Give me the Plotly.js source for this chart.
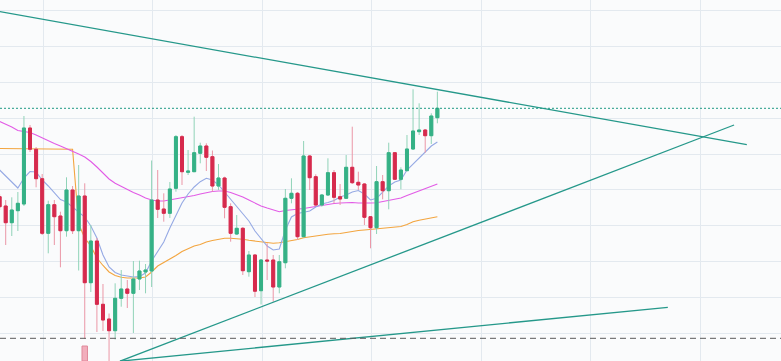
<!DOCTYPE html>
<html><head><meta charset="utf-8">
<script src="https://cdn.plot.ly/plotly-3.0.1.min.js"></script>
<style>html,body{margin:0;padding:0;background:#fafbfc;}#chart{width:781px;height:361px;}</style>
</head><body><div id="chart"></div>
<script>
// candle index (bar number), -1 is the partially visible first bar
const candleIndex = [-1,0,1,2,3,4,5,6,7,8,9,10,11,12,13,14,15,16,17,18,19,20,21,22,23,24,25,26,27,28,29,30,31,32,33,34,35,36,37,38,39,40,41,42,43,44,45,46,47,48,49,50,51,52,53,54,55,56,57,58,59,60,61,62,63,64,65,66,67,68,69,70,71];

const openPrices = [203.3,194,177.3,189.3,196,272,250.7,221.3,166.7,195.3,184,169.3,210,169.3,204,117.3,159,95.7,81,69.3,101.7,111,106.7,121,128,129,200,191,186.7,211.7,263.3,227.7,228.3,246.7,254,243.3,214,222,193.3,166,171.7,128.3,145,109.3,140,140,113,137.3,201.7,206.7,163.3,244,223.3,195,205,227.3,203.3,201.7,232.7,217.7,216,183.3,172.3,218.3,209.3,247.3,220.7,229.3,251,268.3,270,264.3,282.3];
const highPrices = [206,200,202.7,208,284,275,253,226,199.3,200,188.3,222.7,214,235,216.7,175,162,116,86.5,116.7,130,120,139,139.3,136,239.5,230,206.7,218,265,265,250,283.3,257.3,256.7,249.5,236,223.3,196.7,185,173,149,146,141,156.7,145,145,211,221.7,208,259,245,225.7,206,241.7,230,216,245,273.3,228.3,217,184,234,225,257.3,248,232.7,265,310.7,296.7,271,286.7,308.3];
const lowPrices = [190,155,164,169,194,248,212.7,165,146.7,155,132.7,163.3,166,129.5,61,108,68,69,28,60.5,93.3,92,67,110,106.7,113,182,178.3,182,208.3,215,225,228,236.7,229,208.3,210,181.7,158.3,165,125,123.3,103,95.5,120,98.3,106.7,131.7,196.7,160,163,210,194,193.3,204,196.7,195,201,216,210,175,151.7,166,200.7,190.7,220,210.7,229,250,265,247.3,256,276.7];
const closePrices = [193.3,177.3,190,196.7,272,250.7,221.3,166.7,195.3,183.3,169.3,210,169.3,204,117.3,159,95.7,80,69.3,101.7,111,106.7,121,129,130,200,190.7,186.7,211,263.3,228.3,229,247.3,254,242.7,214,222,192.7,166.7,171.7,129.3,145,108.8,140,139,113,138.3,201.7,206.7,163.3,244,222.3,195,205,227.3,202.7,201,232.7,217.3,215,182.7,172.3,218.3,209.3,247.3,220.7,230,251,269,270,264.3,284,291.7];

// moving averages
const maFast = [230,224,217,212,222,228.5,228,220,214,207,200.5,198,193,188,183,174,162,145,133,127.5,125,124,123,123.5,127,139,149,158,172,185,197,206,213,218.3,221.7,220,215,208,201,193,186,179,169,161,154,150,151,170,183,186.5,188,189,193,196,197.5,199.5,203,205,208,209.5,206,200,201.7,208,214,218,220,230,236,242,249,254,258];
const maMid = [278.5,276,273,269.5,268.5,267.5,265,262,259,256.5,254,251.5,249,246,243,238.5,233,227,221,216.7,213.5,210.5,207.5,205,202,200,199,199,200,201,202.5,203.5,204.5,206,207.5,208.5,209,209,207.5,205.5,203,200,196.7,194,192,190,188.3,189.5,190,190.7,191.5,192.5,193.5,194.5,196,196.5,197,197.5,197.5,197,196.7,197,197.3,198.3,199.3,200.5,202,204.5,206.7,209,211.3,213.5,216];
const maSlow = [251.5,251.4,251.3,251.3,251.2,251.2,251.1,251.1,251,251,250.9,250.8,250.7,176,162,154,142,134.5,128,124.5,122.7,122,121.7,122,123,128,134,137.5,140.5,144.5,148.5,151.5,154,155.5,158,159.5,160.7,161.7,161.7,161.3,160.7,159.7,159,158,157,156.7,157.3,158.3,159.5,160.5,162.3,163.3,164,165,165.7,166.3,166.5,167.5,168.7,169.5,170,170.5,171,171.5,172,172.7,173.5,175.5,178.3,179.7,180.7,182,183.3];

// volume (only the bar that rises into view is known)
const volumeIndex = [13];
const volumeValues = [41.5];

// horizontal levels
const lastPriceLevel = [291.7];
const supportLevel = [61.7];

// trend lines (bar index, price)
const trendDownX = [-5, 121.9];
const trendDownY = [392.7, 255.3];
const trendUpX = [18.8, 119.8];
const trendUpY = [38.8, 275];
const trendLowX = [18.8, 108.9];
const trendLowY = [38.8, 92.7];

const bodyTop = openPrices.map((o, i) => Math.max(o, closePrices[i]));
const bodyBottom = openPrices.map((o, i) => Math.min(o, closePrices[i]));

const UP = '#35b186', DOWN = '#d62a4d';
const UP_WICK = '#90d3b8', DOWN_WICK = '#eb97a7';
const TREND = '#25988a';

const traces = [
  {type:'scatter', mode:'lines', x:candleIndex, y:maSlow, line:{color:'#f3a53f', width:1.1}, hoverinfo:'skip'},
  {type:'scatter', mode:'lines', x:candleIndex, y:maMid, line:{color:'#e25be6', width:1.1}, hoverinfo:'skip'},
  {type:'scatter', mode:'lines', x:candleIndex, y:maFast, line:{color:'#95a9e4', width:1.1}, hoverinfo:'skip'},
  {type:'candlestick', x:candleIndex, open:openPrices, high:highPrices, low:lowPrices, close:closePrices,
   xaxis:'x', yaxis:'y2', whiskerwidth:0, hoverinfo:'skip',
   increasing:{line:{color:UP_WICK, width:1}, fillcolor:UP_WICK},
   decreasing:{line:{color:DOWN_WICK, width:1}, fillcolor:DOWN_WICK}},
  {type:'candlestick', x:candleIndex, open:openPrices, high:bodyTop, low:bodyBottom, close:closePrices,
   xaxis:'x', yaxis:'y2', whiskerwidth:0, hoverinfo:'skip',
   increasing:{line:{color:UP, width:1}, fillcolor:UP},
   decreasing:{line:{color:DOWN, width:1}, fillcolor:DOWN}},
  {type:'bar', x:volumeIndex, y:volumeValues, xaxis:'x', yaxis:'y3', width:0.9,
   marker:{color:'rgba(240,160,178,0.85)', line:{color:'#e0899b', width:1}}, hoverinfo:'skip'},
  {type:'scatter', mode:'lines', x:trendDownX, y:trendDownY, xaxis:'x', yaxis:'y4', line:{color:TREND, width:1.3}, hoverinfo:'skip'},
  {type:'scatter', mode:'lines', x:trendUpX, y:trendUpY, xaxis:'x', yaxis:'y4', line:{color:TREND, width:1.3}, hoverinfo:'skip'},
  {type:'scatter', mode:'lines', x:trendLowX, y:trendLowY, xaxis:'x', yaxis:'y4', line:{color:TREND, width:1.3}, hoverinfo:'skip'}
];

const shapes = [
  {type:'line', xref:'paper', x0:0, x1:1, yref:'y', y0:lastPriceLevel[0], y1:lastPriceLevel[0], layer:'above',
   line:{color:'#1f9a84', width:1, dash:'2px,2px'}},
  {type:'line', xref:'paper', x0:0, x1:1, yref:'y', y0:supportLevel[0], y1:supportLevel[0], layer:'above',
   line:{color:'#5a5a5a', width:1, dash:'6px,4px'}}
];

const PRICE_RANGE = [39, 400];
const layout = {
  width:781, height:361,
  margin:{l:0, r:0, t:0, b:0, pad:0},
  paper_bgcolor:'#fafbfc', plot_bgcolor:'#fafbfc',
  showlegend:false,
  boxgap:0.3, boxmode:'overlay',
  bargap:0,
  xaxis:{range:[-0.9375, 127.52], tickmode:'linear', tick0:6.2, dtick:18, showgrid:true, gridcolor:'#e3e9ef', gridwidth:1,
         showticklabels:false, ticks:'', zeroline:false, showline:false, rangeslider:{visible:false}, fixedrange:true},
  yaxis:{range:PRICE_RANGE, tickmode:'linear', tick0:389.3, dtick:35.84, showgrid:true, gridcolor:'#e3e9ef', gridwidth:1,
         showticklabels:false, ticks:'', zeroline:false, showline:false, fixedrange:true},
  yaxis2:{overlaying:'y', range:PRICE_RANGE, visible:false, showgrid:false, zeroline:false, fixedrange:true},
  yaxis3:{overlaying:'y', range:[0, 1000], visible:false, showgrid:false, zeroline:false, fixedrange:true},
  yaxis4:{overlaying:'y', range:PRICE_RANGE, visible:false, showgrid:false, zeroline:false, fixedrange:true},
  shapes:shapes
};

Plotly.newPlot('chart', traces, layout, {displayModeBar:false, staticPlot:true});
</script>
</body></html>
